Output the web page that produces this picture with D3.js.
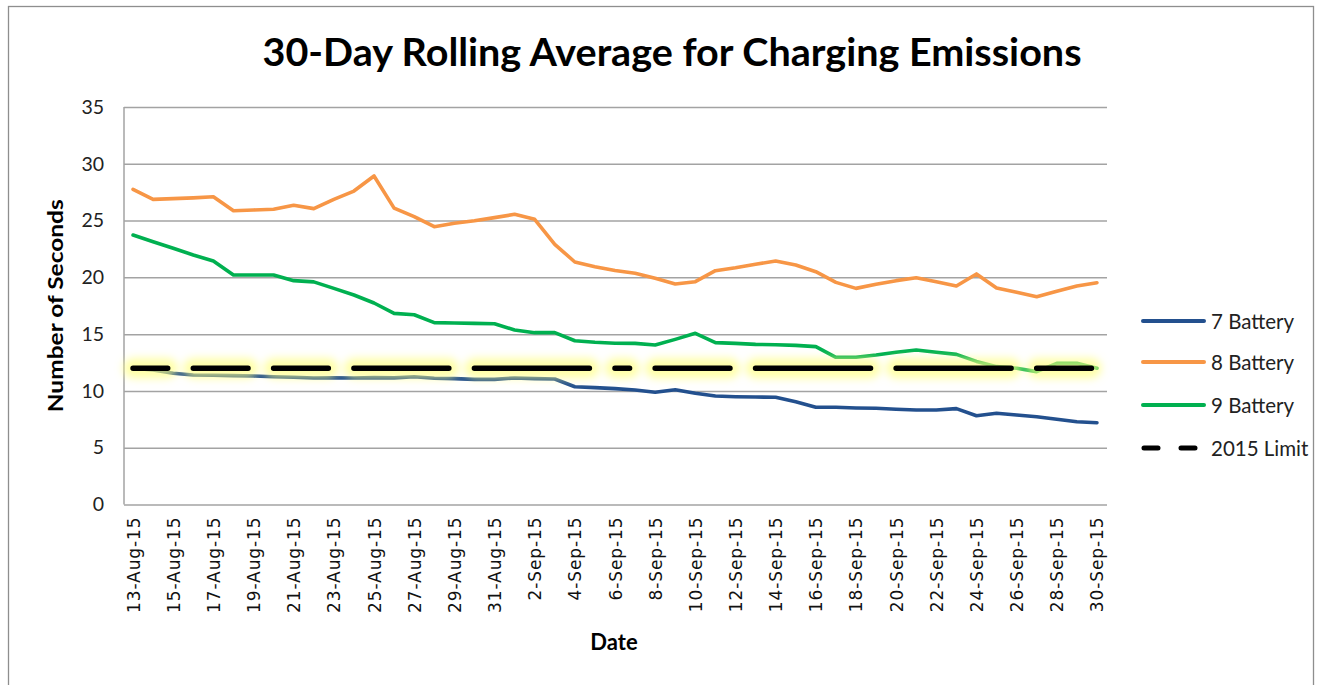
<!DOCTYPE html>
<html>
<head>
<meta charset="utf-8">
<script src="https://cdn.jsdelivr.net/npm/d3@7/dist/d3.min.js"></script>
<style>
  html, body { margin: 0; padding: 0; background: #ffffff; }
  svg { display: block; }
</style>
</head>
<body>
<svg id="chart" width="1319" height="685"></svg>
<script>
// ---------------- DATA ----------------
const dates = [
  "13-Aug-15","14-Aug-15","15-Aug-15","16-Aug-15","17-Aug-15","18-Aug-15","19-Aug-15",
  "20-Aug-15","21-Aug-15","22-Aug-15","23-Aug-15","24-Aug-15","25-Aug-15","26-Aug-15",
  "27-Aug-15","28-Aug-15","29-Aug-15","30-Aug-15","31-Aug-15","1-Sep-15","2-Sep-15",
  "3-Sep-15","4-Sep-15","5-Sep-15","6-Sep-15","7-Sep-15","8-Sep-15","9-Sep-15",
  "10-Sep-15","11-Sep-15","12-Sep-15","13-Sep-15","14-Sep-15","15-Sep-15","16-Sep-15",
  "17-Sep-15","18-Sep-15","19-Sep-15","20-Sep-15","21-Sep-15","22-Sep-15","23-Sep-15",
  "24-Sep-15","25-Sep-15","26-Sep-15","27-Sep-15","28-Sep-15","29-Sep-15","30-Sep-15"
];
const xTickLabels = [
  "13-Aug-15","15-Aug-15","17-Aug-15","19-Aug-15","21-Aug-15","23-Aug-15","25-Aug-15",
  "27-Aug-15","29-Aug-15","31-Aug-15","2-Sep-15","4-Sep-15","6-Sep-15","8-Sep-15",
  "10-Sep-15","12-Sep-15","14-Sep-15","16-Sep-15","18-Sep-15","20-Sep-15","22-Sep-15",
  "24-Sep-15","26-Sep-15","28-Sep-15","30-Sep-15"
];
const yTicks = [0, 5, 10, 15, 20, 25, 30, 35];

const battery7 = [12.0, 11.84, 11.55, 11.4, 11.38, 11.35, 11.31, 11.25, 11.2, 11.14,
  11.16, 11.14, 11.17, 11.15, 11.25, 11.11, 11.08, 11.02, 11.02, 11.14,
  11.08, 11.05, 10.37, 10.29, 10.2, 10.08, 9.88, 10.11, 9.79, 9.55,
  9.49, 9.46, 9.44, 9.05, 8.56, 8.56, 8.5, 8.47, 8.38, 8.32,
  8.32, 8.44, 7.82, 8.03, 7.88, 7.73, 7.5, 7.29, 7.2];
const battery8 = [27.75, 26.87, 26.93, 27.0, 27.1, 25.87, 25.93, 26.0, 26.35, 26.05,
  26.87, 27.6, 28.93, 26.1, 25.35, 24.46, 24.76, 24.99, 25.26, 25.55,
  25.11, 22.91, 21.35, 20.94, 20.6, 20.36, 19.92, 19.41, 19.62, 20.59,
  20.85, 21.15, 21.44, 21.09, 20.5, 19.56, 19.03, 19.39, 19.71, 19.97,
  19.62, 19.24, 20.3, 19.06, 18.68, 18.3, 18.77, 19.24, 19.53];
const battery9 = [23.73, 23.14, 22.56, 21.97, 21.44, 20.21, 20.21, 20.21, 19.71, 19.6,
  19.03, 18.45, 17.74, 16.83, 16.71, 16.01, 15.98, 15.95, 15.92, 15.37,
  15.13, 15.13, 14.42, 14.28, 14.2, 14.19, 14.04, 14.54, 15.07, 14.25,
  14.19, 14.1, 14.07, 14.01, 13.9, 12.96, 12.96, 13.16, 13.4, 13.6,
  13.4, 13.22, 12.6, 12.14, 12.0, 11.7, 12.43, 12.43, 12.0];
const limit2015 = [12, 12, 12, 12, 12, 12, 12, 12, 12, 12,
  12, 12, 12, 12, 12, 12, 12, 12, 12, 12,
  12, 12, 12, 12, 12, 12, 12, 12, 12, 12,
  12, 12, 12, 12, 12, 12, 12, 12, 12, 12,
  12, 12, 12, 12, 12, 12, 12, 12, 12];
const seriesNames = ["7 Battery", "8 Battery", "9 Battery", "2015 Limit"];
const titleText = "30-Day Rolling Average for Charging Emissions";
const yAxisTitle = "Number of Seconds";
const xAxisTitle = "Date";

// ---------------- STYLE ----------------
const colors = { "7 Battery": "#23508e", "8 Battery": "#f79646", "9 Battery": "#00b050", "2015 Limit": "#000000" };
const limitDashDays = [2, 3, 3, 5, 6, 1, 4, 6, 6, 3]; // dash lengths in category steps, 1-step gaps

const svg = d3.select("#chart");
const plot = { left: 124, right: 1107, top: 107, bottom: 504.5 };

const x = d3.scalePoint().domain(dates).range([123, 1107]).padding(0.5);
const y = d3.scaleLinear().domain([0, 35]).range([plot.bottom, plot.top]);

// outer chart border
svg.append("rect")
  .attr("x", 8.5).attr("y", 6.5).attr("width", 1305).attr("height", 700)
  .attr("fill", "#ffffff").attr("stroke", "#8e8e8e").attr("stroke-width", 1.3);

// defs: glow blur (user space region, since the line's bbox has zero height)
const defs = svg.append("defs");
defs.append("filter").attr("id", "glow")
  .attr("filterUnits", "userSpaceOnUse")
  .attr("x", 0).attr("y", 0).attr("width", 1319).attr("height", 685)
  .append("feGaussianBlur").attr("stdDeviation", 4);

// gridlines
const yAxis = d3.axisLeft(y).tickValues(yTicks).tickSize(-(plot.right - plot.left)).tickPadding(20).tickFormat(d3.format("d"));
const gy = svg.append("g").attr("transform", `translate(${plot.left},0)`).call(yAxis);
gy.select(".domain").remove();
gy.selectAll(".tick line").attr("stroke", "#a3a3a3").attr("stroke-width", 1.5);
gy.selectAll(".tick text")
  .attr("font-family", "Lato, 'Open Sans', sans-serif").attr("font-size", 19.5).attr("fill", "#222");

// left axis line
svg.append("line").attr("x1", plot.left).attr("x2", plot.left).attr("y1", plot.top).attr("y2", plot.bottom)
  .attr("stroke", "#a3a3a3").attr("stroke-width", 1.5);

// x axis labels
const xAxis = d3.axisBottom(x).tickValues(xTickLabels).tickSize(0).tickPadding(0);
const gx = svg.append("g").attr("transform", `translate(0,${plot.bottom})`).call(xAxis);
gx.select(".domain").remove();
gx.selectAll(".tick text")
  .attr("font-family", "'DejaVu Sans', Verdana, sans-serif").attr("font-size", 17)
  .attr("letter-spacing", 0.9).attr("fill", "#111")
  .attr("text-anchor", "end").attr("dy", null)
  .attr("dominant-baseline", "central")
  .attr("transform", "translate(0,12) rotate(-90)")
  .attr("x", 0).attr("y", 0);

// lines
const line = d3.line().x((d, i) => x(dates[i])).y(d => y(d));
const dataSeries = [
  { name: "7 Battery", values: battery7 },
  { name: "8 Battery", values: battery8 },
  { name: "9 Battery", values: battery9 }
];
svg.append("g").selectAll("path").data(dataSeries).join("path")
  .attr("d", d => line(d.values))
  .attr("fill", "none")
  .attr("stroke", d => colors[d.name])
  .attr("stroke-width", 3.6)
  .attr("stroke-linejoin", "round")
  .attr("stroke-linecap", "round");

// limit line with glow
const step = x.step();
const lw = 5.5;
const dashArr = [];
limitDashDays.forEach(dd => { dashArr.push(dd * step - lw, step + lw); });
const dashStr = dashArr.map(v => v.toFixed(2)).join(",");
svg.append("path")
  .attr("d", line(limit2015))
  .attr("fill", "none").attr("stroke", "#ffff80").attr("stroke-opacity", 0.7)
  .attr("stroke-width", 20).attr("stroke-linecap", "round")
  .attr("stroke-dasharray", dashStr).attr("filter", "url(#glow)");
svg.append("path")
  .attr("d", line(limit2015))
  .attr("fill", "none").attr("stroke", colors["2015 Limit"])
  .attr("stroke-width", lw).attr("stroke-linecap", "round")
  .attr("stroke-dasharray", dashStr);

// titles
svg.append("text").text(titleText)
  .attr("x", 672).attr("y", 66).attr("text-anchor", "middle")
  .attr("font-family", "Lato, 'Open Sans', sans-serif").attr("font-weight", "bold")
  .attr("font-size", 39).attr("fill", "#000")
  .attr("textLength", 819).attr("lengthAdjust", "spacingAndGlyphs");

svg.append("text").text(yAxisTitle)
  .attr("transform", `translate(63,${(plot.top + plot.bottom) / 2}) rotate(-90)`)
  .attr("text-anchor", "middle")
  .attr("font-family", "Lato, 'Open Sans', sans-serif").attr("font-weight", "bold")
  .attr("font-size", 21).attr("fill", "#000")
  .attr("textLength", 213).attr("lengthAdjust", "spacingAndGlyphs");

svg.append("text").text(xAxisTitle)
  .attr("x", 614).attr("y", 650).attr("text-anchor", "middle")
  .attr("font-family", "Lato, 'Open Sans', sans-serif").attr("font-weight", "bold")
  .attr("font-size", 22).attr("fill", "#000");

// legend
const legendY = [321, 362, 405, 448];
const lg = svg.append("g");
seriesNames.forEach((name, i) => {
  const g = lg.append("g").attr("transform", `translate(0,${legendY[i]})`);
  if (name === "2015 Limit") {
    g.append("line").attr("x1", 1144).attr("x2", 1201).attr("y1", 0).attr("y2", 0)
      .attr("stroke", "#000").attr("stroke-width", 5).attr("stroke-linecap", "round")
      .attr("stroke-dasharray", "14,23");
  } else {
    g.append("line").attr("x1", 1143).attr("x2", 1204).attr("y1", 0).attr("y2", 0)
      .attr("stroke", colors[name]).attr("stroke-width", 4).attr("stroke-linecap", "round");
  }
  g.append("text").text(name)
    .attr("x", 1211).attr("y", 0).attr("dominant-baseline", "central")
    .attr("font-family", "Lato, 'Open Sans', sans-serif").attr("font-size", 20.5).attr("fill", "#222");
});
</script>
</body>
</html>
